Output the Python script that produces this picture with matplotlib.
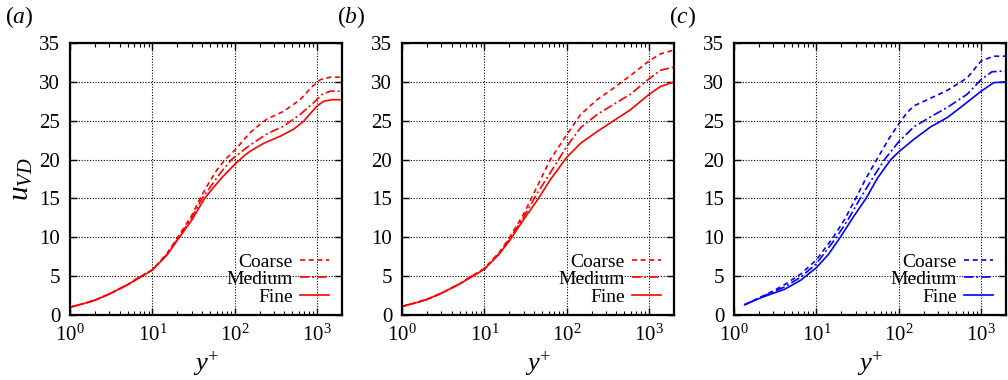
import numpy as np
import matplotlib
matplotlib.use("Agg")
import matplotlib.pyplot as plt
from matplotlib.ticker import LogLocator, NullFormatter

plt.rcParams['font.family'] = ['Liberation Serif', 'DejaVu Serif']
plt.rcParams['mathtext.fontset'] = 'custom'
plt.rcParams['mathtext.rm'] = 'Liberation Serif'
plt.rcParams['mathtext.it'] = 'Liberation Serif:italic'
plt.rcParams['mathtext.bf'] = 'Liberation Serif:bold'

# ---------------- data ----------------
series_names = ["Coarse", "Medium", "Fine"]
panel_labels = ["($a$)", "($b$)", "($c$)"]
panel_colors = ["#ff0000", "#ff0000", "#0000ff"]

# panel (a)
a_coarse_y = [1, 1.5, 2, 3, 5, 7, 10, 15, 20, 30, 38, 46, 60, 76, 100, 130, 155, 200, 245, 390, 620, 870, 1100, 1440, 2000]
a_coarse_u = [1.0, 1.5, 1.9, 2.7, 3.9, 4.9, 5.8, 7.9, 9.9, 12.8, 15.0, 16.6, 18.6, 20.0, 21.2, 22.6, 23.5, 24.5, 25.2, 26.2, 27.7, 29.4, 30.3, 30.6, 30.6]
a_medium_y = [1, 1.5, 2, 3, 5, 7, 10, 15, 20, 30, 40, 50, 66, 91, 120, 155, 245, 390, 620, 900, 1150, 1440, 2000]
a_medium_u = [1.0, 1.5, 1.9, 2.7, 3.9, 4.9, 5.8, 7.8, 9.7, 12.5, 15.0, 16.4, 18.2, 20.0, 21.0, 21.9, 23.3, 24.3, 25.8, 27.3, 28.4, 28.8, 28.8]
a_fine_y = [1, 1.5, 2, 3, 5, 7, 10, 15, 20, 30, 43, 55, 70, 100, 130, 155, 225, 355, 515, 680, 870, 1000, 1200, 1500, 2000]
a_fine_u = [1.0, 1.5, 1.9, 2.7, 3.9, 4.8, 5.8, 7.7, 9.6, 12.2, 15.0, 16.4, 17.7, 19.4, 20.5, 21.1, 22.1, 23.0, 23.9, 24.9, 26.2, 26.9, 27.5, 27.7, 27.7]

# panel (b)
b_coarse_y = [1, 1.5, 2, 3, 5, 7, 10, 15, 20, 30, 44, 63, 100, 147, 233, 370, 590, 1000, 1370, 2000]
b_coarse_u = [1.1, 1.6, 2.0, 2.8, 4.0, 5.0, 6.0, 8.0, 9.9, 13.0, 16.6, 20.0, 23.2, 25.8, 27.7, 29.2, 30.8, 32.7, 33.6, 34.1]
b_medium_y = [1, 1.5, 2, 3, 5, 7, 10, 15, 20, 30, 44, 63, 100, 147, 233, 370, 590, 1000, 1370, 2000]
b_medium_u = [1.1, 1.6, 2.0, 2.8, 4.0, 5.0, 5.9, 7.9, 9.7, 12.6, 15.7, 18.3, 21.7, 24.1, 25.8, 27.1, 28.4, 30.4, 31.5, 31.9]
b_fine_y = [1, 1.5, 2, 3, 5, 7, 10, 15, 20, 30, 44, 63, 100, 147, 233, 370, 590, 1000, 1370, 2000]
b_fine_u = [1.1, 1.6, 2.0, 2.8, 4.0, 4.9, 5.9, 7.8, 9.5, 12.3, 14.8, 17.4, 20.3, 22.1, 23.6, 25.0, 26.4, 28.4, 29.4, 30.0]

# panel (c)
c_coarse_y = [1.35, 2.1, 3, 4.1, 6.5, 10, 16, 22, 30, 40, 54, 75, 100, 125, 152, 243, 387, 675, 1000, 1420, 2000]
c_coarse_u = [1.33, 2.3, 3.1, 3.9, 5.3, 7.1, 10.0, 12.3, 15.0, 17.6, 20.0, 22.6, 24.6, 26.0, 26.9, 27.9, 28.9, 30.5, 32.7, 33.3, 33.3]
c_medium_y = [1.35, 2.1, 3, 4.1, 6.5, 10, 17.5, 24, 34, 48, 67, 100, 152, 243, 387, 675, 1000, 1350, 2000]
c_medium_u = [1.33, 2.25, 3.0, 3.6, 4.9, 6.6, 10.0, 12.2, 15.0, 17.6, 20.0, 22.3, 24.2, 25.5, 26.7, 28.4, 30.3, 31.3, 31.4]
c_fine_y = [1.35, 2.1, 3, 4.1, 6.5, 10, 14, 19.5, 28, 40, 55, 80, 100, 152, 243, 387, 560, 1000, 1420, 2000]
c_fine_u = [1.33, 2.2, 2.8, 3.3, 4.5, 6.1, 7.8, 10.0, 12.6, 15.0, 17.6, 20.0, 21.0, 22.6, 24.2, 25.4, 26.7, 28.8, 29.9, 30.0]

panels = [
    [(a_coarse_y, a_coarse_u), (a_medium_y, a_medium_u), (a_fine_y, a_fine_u)],
    [(b_coarse_y, b_coarse_u), (b_medium_y, b_medium_u), (b_fine_y, b_fine_u)],
    [(c_coarse_y, c_coarse_u), (c_medium_y, c_medium_u), (c_fine_y, c_fine_u)],
]

y_ticks = [0, 5, 10, 15, 20, 25, 30, 35]

# ---------------- figure ----------------
W, H = 1008, 380
fig = plt.figure(figsize=(W / 100, H / 100), dpi=100)

lefts = [70, 402, 734]
ax_w, ax_h = 272, 272
ax_top = 43

styles = [dict(linestyle=(0, (3.0, 2.2))),
          dict(linestyle=(0, (5.5, 1.8, 1.2, 1.8))),
          dict(linestyle='-')]

for i, (left, data) in enumerate(zip(lefts, panels)):
    ax = fig.add_axes([left / W, (H - ax_top - ax_h) / H, ax_w / W, ax_h / H])
    col = panel_colors[i]
    for (xv, yv), name, st in zip(data, series_names, styles):
        ax.plot(xv, yv, color=col, lw=1.2, label=name, **st)
    ax.set_xscale('log')
    ax.set_xlim(1, 2000)
    ax.set_ylim(0, 35)
    ax.set_yticks(y_ticks)
    ax.xaxis.set_major_locator(LogLocator(base=10, numticks=10))
    ax.xaxis.set_minor_locator(LogLocator(base=10, subs=np.arange(2, 10), numticks=20))
    ax.xaxis.set_minor_formatter(NullFormatter())
    ax.grid(True, which='major', color='black', linestyle=(0, (1, 1.5)), lw=0.8)
    ax.tick_params(which='both', direction='in', top=True, right=True, labelsize=15)
    ax.tick_params(which='major', length=5, width=1.0, pad=7)
    ax.tick_params(which='minor', length=3, width=0.8)
    for s in ax.spines.values():
        s.set_linewidth(1.6)
    ax.set_xlabel('$y^{+}$', fontsize=19, labelpad=3)
    if i == 0:
        ax.set_ylabel('$u_{VD}$', fontsize=21, labelpad=3)
    ax.legend(loc='lower right', bbox_to_anchor=(0.98, 0.005), frameon=False,
              markerfirst=False, fontsize=14, handlelength=1.5,
              handletextpad=0.35, labelspacing=0.0, borderaxespad=0.0)
    fig.text((left - 65) / W, 1 - 17 / H, panel_labels[i], fontsize=17,
             ha='left', va='center')

fig.savefig('out.png', dpi=100)
